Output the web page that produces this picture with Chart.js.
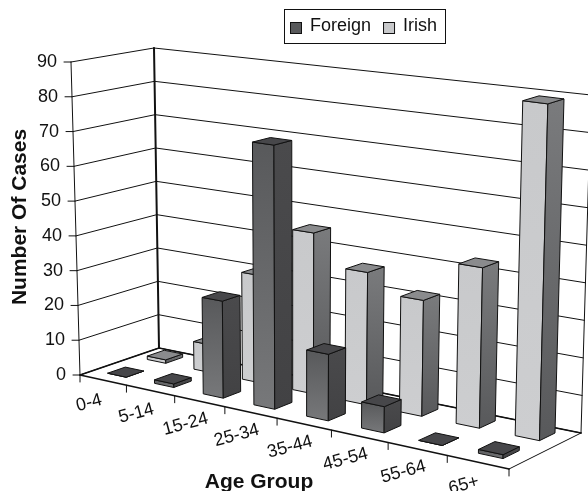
<!DOCTYPE html>
<html>
<head>
<meta charset="utf-8">
<script src="https://cdn.jsdelivr.net/npm/chart.js@4"></script>
<style>
    html, body { margin: 0; padding: 0; background: #fff; }
    canvas { display: block; }
</style>
</head>
<body>
<canvas id="chart" width="588" height="491"></canvas>
<script>
// Data
const categories = ['0-4', '5-14', '15-24', '25-34', '35-44', '45-54', '55-64', '65+'];
const foreign = [0, 1, 27, 72.5, 18, 7, 0, 1];
const irish = [1, 8, 30.5, 45, 36.5, 31.5, 43, 89];
const yTicks = [0, 10, 20, 30, 40, 50, 60, 70, 80, 90];

const FONT = '"Liberation Sans", Arial, sans-serif';

// Floor corners on the page: front-left, front-right, back-right, back-left
const floorQuad = [[80, 375], [509, 469], [581, 433], [159, 348]];
// Where the top of the axis sits relative to each floor corner
const riseQuad = [[-9, -313], [7, -350], [10, -338], [-5, -300]];

// Depth slot of each series inside the box
const rows = [{ v: 0.28, d: 0.11 }, { v: 0.78, d: 0.11 }];

// Unit square -> quad homography
function homography(q) {
    const [[x0, y0], [x1, y1], [x2, y2], [x3, y3]] = q;
    const dx1 = x1 - x2, dx2 = x3 - x2, sx = x0 - x1 + x2 - x3;
    const dy1 = y1 - y2, dy2 = y3 - y2, sy = y0 - y1 + y2 - y3;
    const den = dx1 * dy2 - dx2 * dy1;
    const g = (sx * dy2 - dx2 * sy) / den;
    const h = (dx1 * sy - sx * dy1) / den;
    const a = x1 - x0 + g * x1, b = x3 - x0 + h * x3;
    const d = y1 - y0 + g * y1, e = y3 - y0 + h * y3;
    return (u, v) => {
        const w = g * u + h * v + 1;
        return [(a * u + b * v + x0) / w, (d * u + e * v + y0) / w];
    };
}
const floorH = homography(floorQuad);

// u: along the categories, v: into the page, w: height, all 0..1
function project(u, v, w) {
    const f = floorH(u, v);
    const rise = [0, 1].map(k =>
        (1 - v) * ((1 - u) * riseQuad[0][k] + u * riseQuad[1][k]) +
        v * ((1 - u) * riseQuad[3][k] + u * riseQuad[2][k]));
    return [f[0] + rise[0] * w, f[1] + rise[1] * w];
}

function polygon(ctx, pts, fill) {
    ctx.beginPath();
    pts.forEach((p, i) => i ? ctx.lineTo(p[0], p[1]) : ctx.moveTo(p[0], p[1]));
    ctx.closePath();
    ctx.fillStyle = fill;
    ctx.fill();
    ctx.strokeStyle = '#111';
    ctx.lineWidth = 1;
    ctx.lineJoin = 'round';
    ctx.stroke();
}

function line(ctx, a, b, width) {
    ctx.beginPath();
    ctx.moveTo(a[0], a[1]);
    ctx.lineTo(b[0], b[1]);
    ctx.strokeStyle = '#111';
    ctx.lineWidth = width;
    ctx.stroke();
}

function vGradient(ctx, a, b, from, to) {
    const g = ctx.createLinearGradient(0, a[1], 0, Math.max(b[1], a[1] + 1));
    g.addColorStop(0, from);
    g.addColorStop(1, to);
    return g;
}

// Bars keep their place from Chart.js, only the painting is projected
class Bar3DController extends Chart.BarController {
    draw() {
        const chart = this.chart, ctx = chart.ctx, area = chart.chartArea;
        const ds = this.getDataset();
        const row = rows[this.index];
        const toU = x => (x - area.left) / area.width;
        const toW = y => (area.bottom - y) / area.height;

        ctx.save();
        this.getMeta().data.forEach(bar => {
            const p = bar.getProps(['x', 'y', 'base', 'width'], true);
            const u0 = toU(p.x - p.width / 2), u1 = toU(p.x + p.width / 2);
            const w0 = toW(p.base), w1 = toW(p.y);
            const v0 = row.v - row.d, v1 = row.v + row.d;

            const fbl = project(u0, v0, w0), fbr = project(u1, v0, w0), bbr = project(u1, v1, w0);
            const ftl = project(u0, v0, w1), ftr = project(u1, v0, w1), btr = project(u1, v1, w1), btl = project(u0, v1, w1);

            polygon(ctx, [ftl, ftr, fbr, fbl], vGradient(ctx, ftl, fbr, ds.frontFrom, ds.frontTo));
            polygon(ctx, [ftr, btr, bbr, fbr], vGradient(ctx, btr, fbr, ds.sideFrom, ds.sideTo));
            polygon(ctx, [ftl, ftr, btr, btl], ds.topColor);
        });
        ctx.restore();
    }
}
Bar3DController.id = 'bar3d';
Bar3DController.defaults = Chart.BarController.defaults;
Chart.register(Bar3DController);

// Walls, grid, ticks and all the text
const boxPlugin = {
    id: 'box',
    beforeDatasetsDraw(chart) {
        const ctx = chart.ctx, area = chart.chartArea, y = chart.scales.y, x = chart.scales.x;
        ctx.save();
        ctx.lineCap = 'round';

        yTicks.forEach(t => {
            const w = (area.bottom - y.getPixelForValue(t)) / area.height;
            const a = project(0, 0, w), b = project(0, 1, w), c = project(1, 1, w);
            line(ctx, a, b, 1);
            line(ctx, b, c, 1);
            line(ctx, [a[0] - 7, a[1]], a, 1);
            ctx.fillStyle = '#111';
            ctx.font = '18px ' + FONT;
            ctx.textAlign = 'right';
            ctx.textBaseline = 'middle';
            ctx.fillText(String(t), a[0] - 14, a[1]);
        });

        line(ctx, project(0, 0, 0), project(0, 0, 1), 1);
        line(ctx, project(0, 1, 0), project(0, 1, 1), 2);
        line(ctx, project(1, 1, 0), project(1, 1, 1), 1);
        line(ctx, project(0, 0, 0), project(0, 1, 0), 1.5);
        line(ctx, project(0, 1, 0), project(1, 1, 0), 1.5);
        line(ctx, project(1, 1, 0), project(1, 0, 0), 1);
        line(ctx, project(0, 0, 0), project(1, 0, 0), 1.5);

        for (let i = 0; i <= categories.length; i++) {
            const p = project(i / categories.length, 0, 0);
            line(ctx, p, [p[0], p[1] + 7], 1);
        }

        categories.forEach((c, i) => {
            const u = (x.getPixelForValue(i) - area.left) / area.width;
            const p = project(u, 0, 0);
            ctx.save();
            ctx.translate(p[0] - 14, p[1] + 23);
            ctx.rotate(-15 * Math.PI / 180);
            ctx.fillStyle = '#111';
            ctx.font = '18px ' + FONT;
            ctx.textAlign = 'center';
            ctx.textBaseline = 'middle';
            ctx.fillText(c, 0, 0);
            ctx.restore();
        });

        // Axis titles
        ctx.fillStyle = '#111';
        ctx.font = 'bold 21px ' + FONT;
        ctx.textAlign = 'center';
        ctx.textBaseline = 'middle';
        ctx.fillText('Age Group', 259, 482);
        ctx.save();
        ctx.translate(20, 217);
        ctx.rotate(-Math.PI / 2);
        ctx.fillText('Number Of Cases', 0, 0);
        ctx.restore();

        ctx.restore();
    },
    afterDraw(chart) {
        // Legend in a frame
        const ctx = chart.ctx;
        ctx.save();
        ctx.strokeStyle = '#111';
        ctx.lineWidth = 1;
        ctx.strokeRect(284.5, 9.5, 161, 34);
        ctx.font = '18px ' + FONT;
        ctx.textBaseline = 'middle';
        ctx.textAlign = 'left';
        let lx = 290;
        chart.data.datasets.forEach(ds => {
            ctx.fillStyle = ds.frontFrom;
            ctx.fillRect(lx + 0.5, 22.5, 11, 11);
            ctx.strokeRect(lx + 0.5, 22.5, 11, 11);
            ctx.fillStyle = '#111';
            ctx.fillText(ds.label, lx + 20, 26);
            lx += 20 + ctx.measureText(ds.label).width + 12;
        });
        ctx.restore();
    }
};

new Chart(document.getElementById('chart'), {
    type: 'bar3d',
    data: {
        labels: categories,
        datasets: [
            { label: 'Foreign', data: foreign, frontFrom: '#58595b', frontTo: '#77787a', sideFrom: '#4a4a4c', sideTo: '#424244', topColor: '#47474a' },
            { label: 'Irish', data: irish, frontFrom: '#c8c9cb', frontTo: '#cdced0', sideFrom: '#7a7b7d', sideTo: '#58595b', topColor: '#8a8b8d' }
        ]
    },
    options: {
        responsive: false,
        animation: false,
        layout: { padding: 0 },
        datasets: { bar3d: { grouped: false, categoryPercentage: 1, barPercentage: 0.4 } },
        plugins: { legend: { display: false }, tooltip: { enabled: false } },
        scales: {
            x: { type: 'category', offset: true, display: false, grid: { offset: true } },
            y: { type: 'linear', min: 0, max: 90, display: false, ticks: { stepSize: 10 } }
        }
    },
    plugins: [boxPlugin]
});
</script>
</body>
</html>
